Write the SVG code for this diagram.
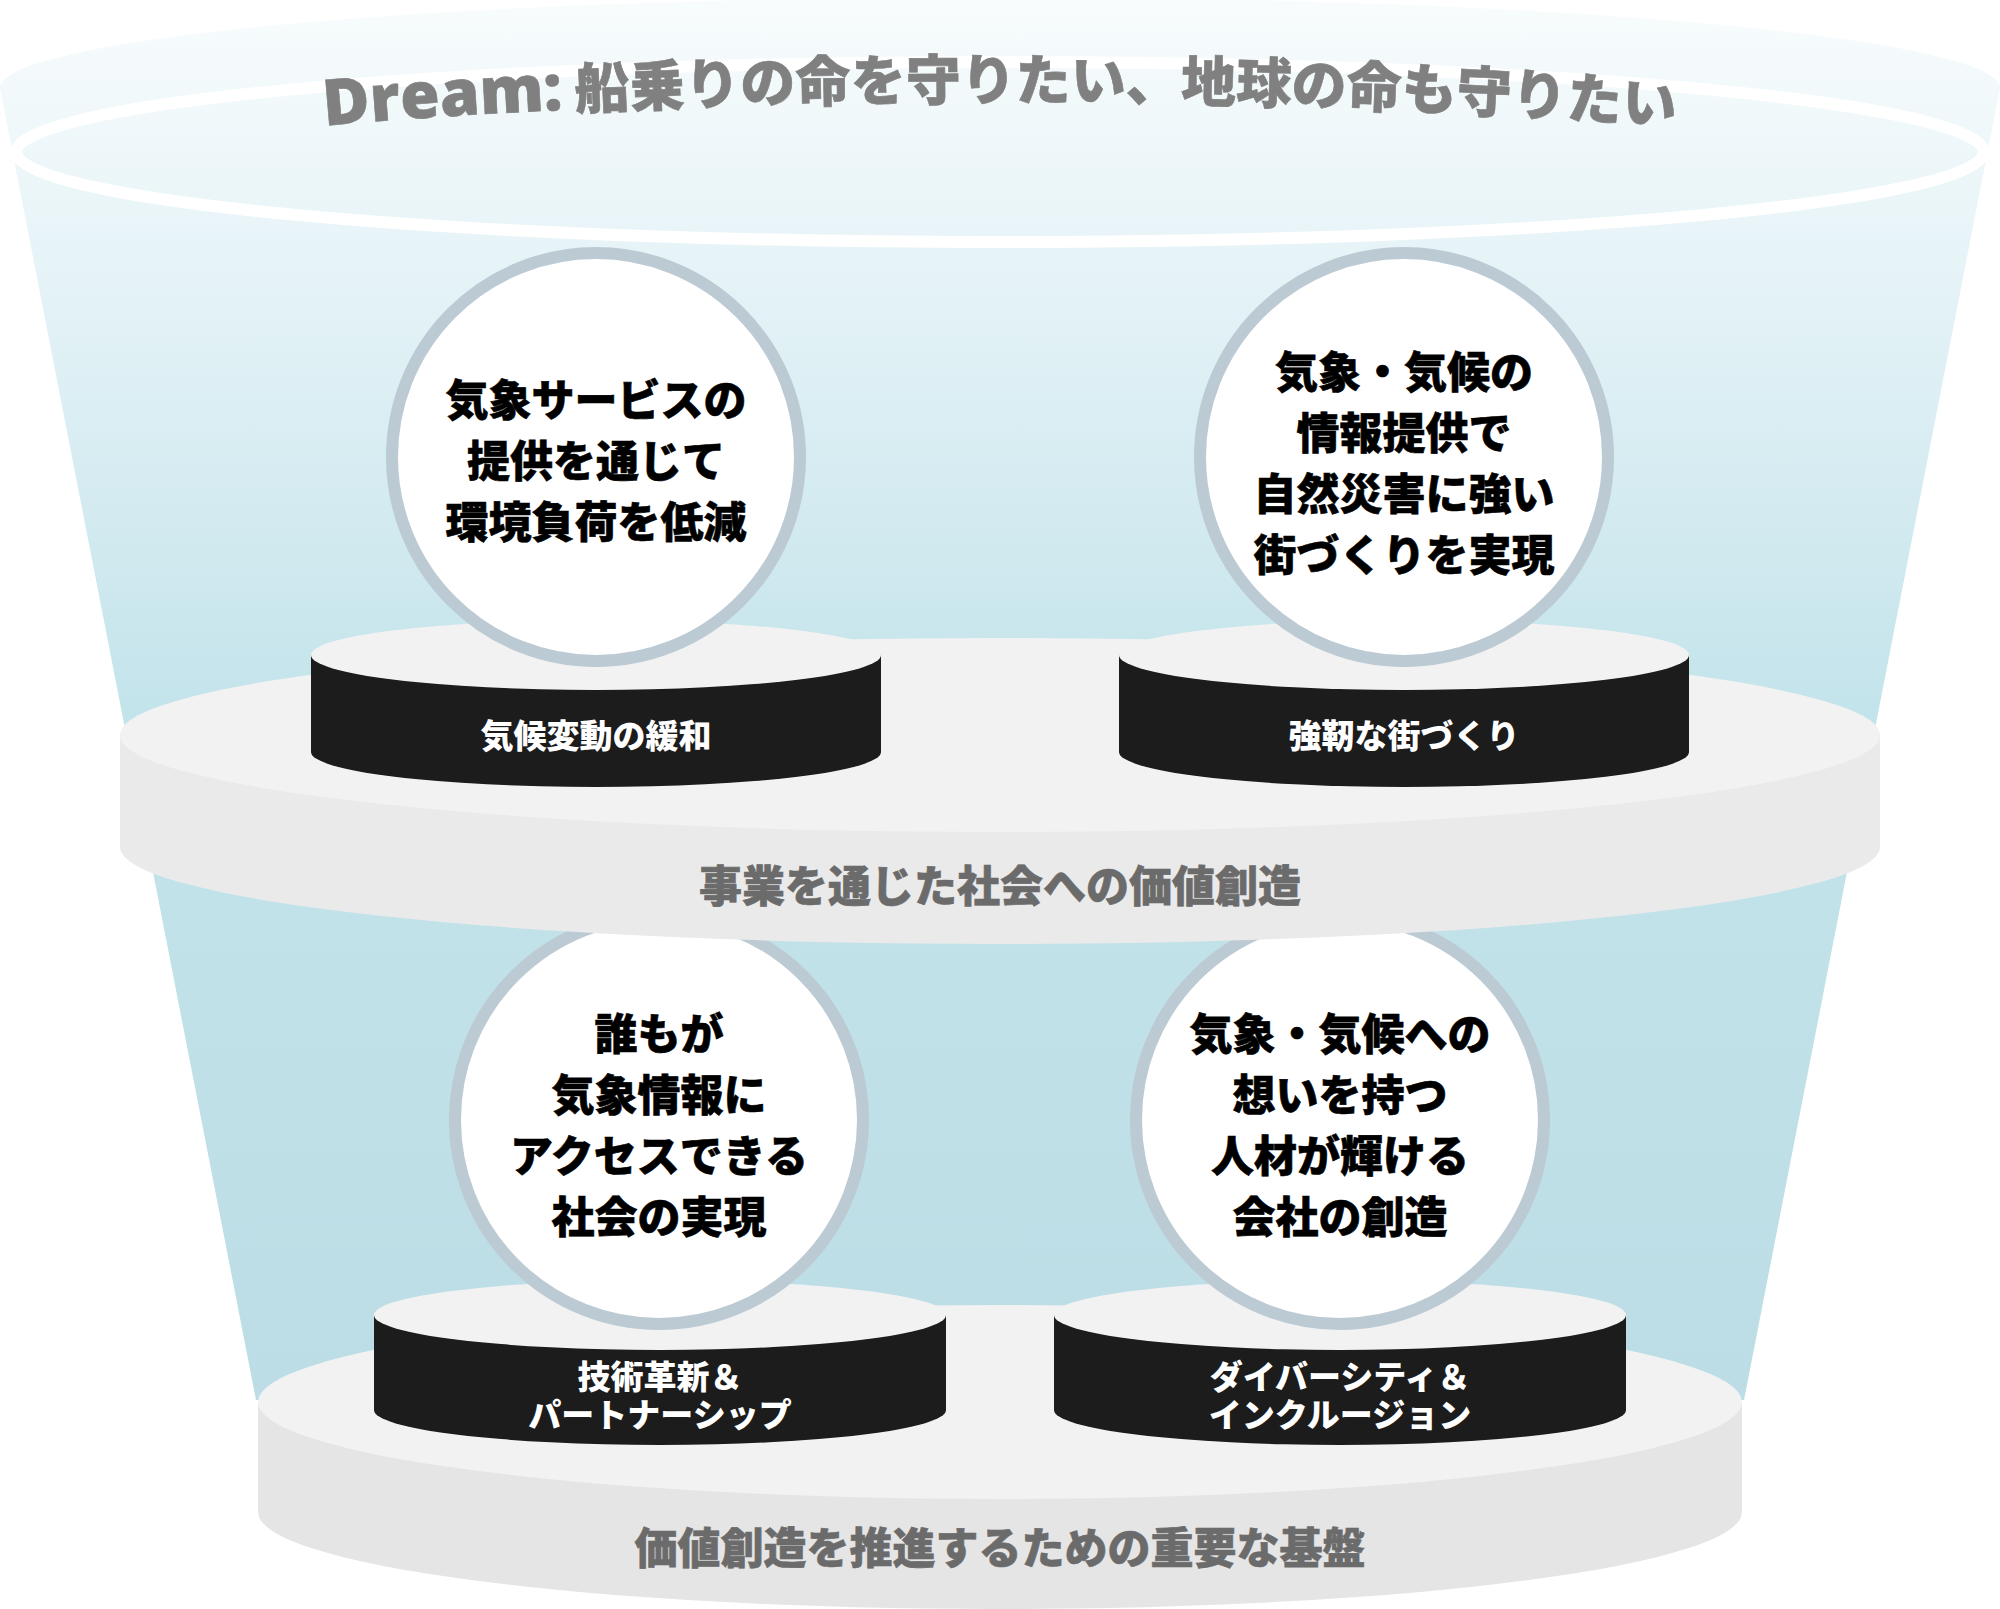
<svg xmlns="http://www.w3.org/2000/svg" width="2000" height="1609" viewBox="0 0 2000 1609">
<defs>
<linearGradient id="cupGrad" gradientUnits="userSpaceOnUse" x1="0" y1="0" x2="0" y2="1400">
<stop offset="0" stop-color="#f8fcfd"/>
<stop offset="0.22" stop-color="#e3f2f6"/>
<stop offset="0.5" stop-color="#c4e4eb"/>
<stop offset="1" stop-color="#bcdde5"/>
</linearGradient>
<path id="titleArc" d="M 10 196 A 990 96 0 0 1 1990 196"/>
<style>
.jp{font-family:"Noto Sans CJK JP","Noto Sans CJK SC",sans-serif;font-weight:900;}
.circ{fill:#ffffff;stroke:#bccad4;stroke-width:12;}
.ctext{font-size:43px;fill:#000000;stroke:#000000;stroke-width:0.6;text-anchor:middle;}
.ptext{font-size:33px;fill:#ffffff;text-anchor:middle;}
.btext{font-size:43px;fill:#6b6b6b;stroke:#6b6b6b;stroke-width:0.6;text-anchor:middle;}
.ptop{fill:#f2f2f2;}
.pside{fill:#1c1c1c;}
.ltop{fill:#f2f2f2;}
.lside1{fill:#eaeaea;}
.lside2{fill:#e5e5e5;}
</style>
</defs>
<rect x="0" y="0" width="2000" height="1609" fill="#ffffff"/>
<g id="cup">
<path d="M 0 88 A 1000 91 0 0 1 2000 88 L 1744 1400 L 256 1400 Z" fill="url(#cupGrad)"/>
<ellipse cx="1000" cy="152" rx="984" ry="90" fill="none" stroke="#ffffff" stroke-width="12"/>
<text class="jp" font-size="55" fill="#808080" stroke="#808080" stroke-width="0.6" text-anchor="middle"><textPath href="#titleArc" startOffset="50%"><tspan font-family="'Open Sans','Noto Sans',sans-serif" font-weight="800" font-size="64">Dream:</tspan> 船乗りの命を守りたい、地球の命も守りたい</textPath></text>
</g>
<g id="base-platform">
<ellipse class="lside2" cx="1000" cy="1512" rx="742" ry="97"/>
<rect class="lside2" x="258" y="1402" width="1484" height="110"/>
<ellipse class="ltop" cx="1000" cy="1402" rx="742" ry="97"/>
<text class="jp btext" x="1000" y="1564">価値創造を推進するための重要な基盤</text>
</g>
<g id="puck-tech">
<ellipse class="pside" cx="660" cy="1410" rx="286" ry="35"/>
<rect class="pside" x="374" y="1315" width="572" height="95"/>
<ellipse class="ptop" cx="660" cy="1315" rx="286" ry="35"/>
<text class="jp ptext" x="660" y="1389">技術革新＆</text>
<text class="jp ptext" x="660" y="1427">パートナーシップ</text>
</g>
<g id="puck-diversity">
<ellipse class="pside" cx="1340" cy="1410" rx="286" ry="35"/>
<rect class="pside" x="1054" y="1315" width="572" height="95"/>
<ellipse class="ptop" cx="1340" cy="1315" rx="286" ry="35"/>
<text class="jp ptext" x="1340" y="1389">ダイバーシティ＆</text>
<text class="jp ptext" x="1340" y="1427">インクルージョン</text>
</g>
<g id="circle-access">
<circle class="circ" cx="659" cy="1120" r="204"/>
<text class="jp ctext" x="659" y="1050">誰もが</text>
<text class="jp ctext" x="659" y="1111">気象情報に</text>
<text class="jp ctext" x="659" y="1172">アクセスできる</text>
<text class="jp ctext" x="659" y="1233">社会の実現</text>
</g>
<g id="circle-people">
<circle class="circ" cx="1340" cy="1120" r="204"/>
<text class="jp ctext" x="1340" y="1050">気象・気候への</text>
<text class="jp ctext" x="1340" y="1111">想いを持つ</text>
<text class="jp ctext" x="1340" y="1172">人材が輝ける</text>
<text class="jp ctext" x="1340" y="1233">会社の創造</text>
</g>
<g id="value-platform">
<ellipse class="lside1" cx="1000" cy="847" rx="880" ry="97"/>
<rect class="lside1" x="120" y="735" width="1760" height="112"/>
<ellipse class="ltop" cx="1000" cy="735" rx="880" ry="97"/>
<text class="jp btext" x="1000" y="902">事業を通じた社会への価値創造</text>
</g>
<g id="puck-mitigation">
<ellipse class="pside" cx="596" cy="752" rx="285" ry="35"/>
<rect class="pside" x="311" y="655" width="570" height="97"/>
<ellipse class="ptop" cx="596" cy="655" rx="285" ry="35"/>
<text class="jp ptext" x="596" y="748">気候変動の緩和</text>
</g>
<g id="puck-resilience">
<ellipse class="pside" cx="1404" cy="752" rx="285" ry="35"/>
<rect class="pside" x="1119" y="655" width="570" height="97"/>
<ellipse class="ptop" cx="1404" cy="655" rx="285" ry="35"/>
<text class="jp ptext" x="1404" y="748">強靭な街づくり</text>
</g>
<g id="circle-environment">
<circle class="circ" cx="596" cy="457" r="204"/>
<text class="jp ctext" x="596" y="416">気象サービスの</text>
<text class="jp ctext" x="596" y="477">提供を通じて</text>
<text class="jp ctext" x="596" y="538">環境負荷を低減</text>
</g>
<g id="circle-resilience">
<circle class="circ" cx="1404" cy="457" r="204"/>
<text class="jp ctext" x="1404" y="388">気象・気候の</text>
<text class="jp ctext" x="1404" y="449">情報提供で</text>
<text class="jp ctext" x="1404" y="510">自然災害に強い</text>
<text class="jp ctext" x="1404" y="571">街づくりを実現</text>
</g>
<g id="connectors"/>
</svg>
